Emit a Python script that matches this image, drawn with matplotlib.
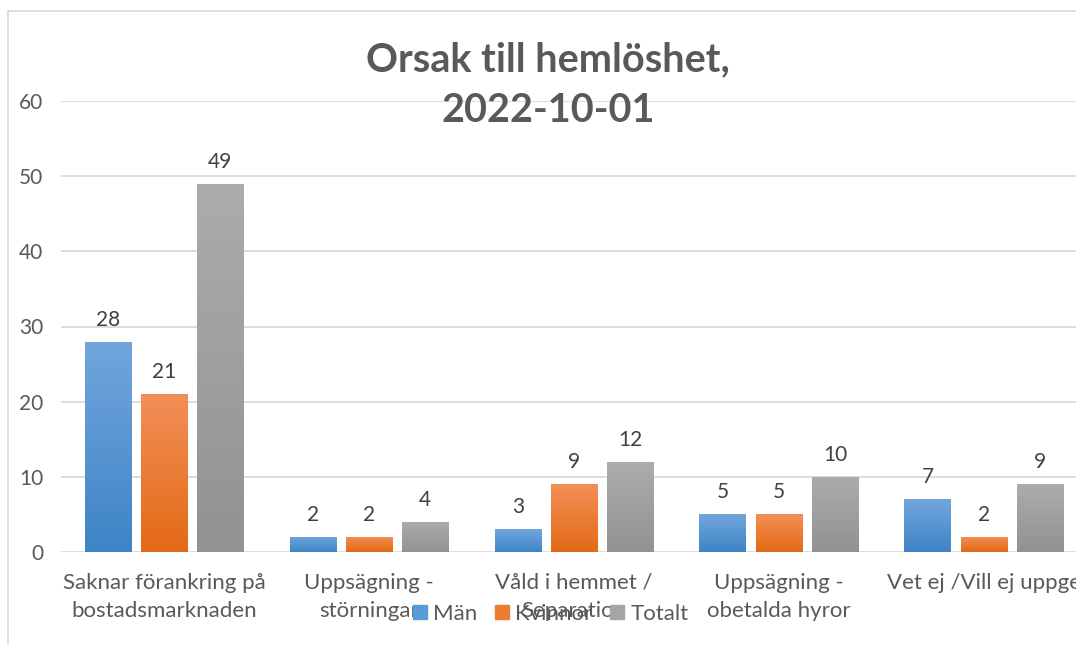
import numpy as np
import matplotlib.pyplot as plt
from matplotlib.patches import Rectangle
from matplotlib.colors import LinearSegmentedColormap

plt.rcParams['font.family'] = ['Lato', 'DejaVu Sans']

CATEGORIES = ["Saknar förankring på\nbostadsmarknaden",
              "Uppsägning -\nstörningar",
              "Våld i hemmet /\nSeparation",
              "Uppsägning -\nobetalda hyror",
              "Vet ej /Vill ej uppge"]
SERIES = ["Män", "Kvinnor", "Totalt"]
MAN = [28, 2, 3, 5, 7]
KVINNOR = [21, 2, 9, 5, 2]
TOTALT = [49, 4, 12, 10, 9]
YTICKS = [0, 10, 20, 30, 40, 50, 60]

# top colour, bottom colour, legend colour
COLORS = [("#72a6dd", "#3e84c6", "#5b9bd5"),
          ("#f28f58", "#e36a15", "#ed7d31"),
          ("#acacac", "#929292", "#a5a5a5")]
TEXT = "#595959"

W, H = 1076, 645
fig = plt.figure(figsize=(W / 100, H / 100), dpi=100)

# chart border (cut off on the right and bottom in the reference)
fig.patches.append(Rectangle((8 / W, -0.1), 1.2, 1 - 11 / H + 0.1,
                             transform=fig.transFigure, fill=False,
                             edgecolor="#d9d9d9", lw=1.2))

left, right = 61.5, 61.5 + 5 * 205
bottom, top = 552, 101
ax = fig.add_axes([left / W, 1 - bottom / H, (right - left) / W, (bottom - top) / H])
for s in ax.spines.values():
    s.set_visible(False)
ax.set_yticks(YTICKS)
ax.yaxis.grid(True, color="#d9d9d9", lw=1.3)
ax.set_axisbelow(True)
ax.tick_params(axis="y", length=0, pad=13, labelsize=15, labelcolor=TEXT)
ax.tick_params(axis="x", length=0, pad=15, labelsize=16, labelcolor=TEXT)
ax.set_xticks(range(len(CATEGORIES)))
ax.set_xticklabels(CATEGORIES, linespacing=1.5)

x = np.arange(len(CATEGORIES))
bw = 47 / 205
step = 56 / 205
grad = np.linspace(0, 1, 256).reshape(-1, 1)
for i, (vals, (ctop, cbot, cleg)) in enumerate(zip([MAN, KVINNOR, TOTALT], COLORS)):
    pos = x + (i - 1) * step
    bars = ax.bar(pos, vals, bw, color=cleg, label=SERIES[i], zorder=2)
    cmap = LinearSegmentedColormap.from_list("g%d" % i, [cbot, ctop])
    for b, v in zip(bars, vals):
        b.set_facecolor("none")
        b.set_edgecolor("none")
        im = ax.imshow(grad, cmap=cmap, aspect="auto", origin="lower",
                       extent=[b.get_x(), b.get_x() + bw, 0, v], zorder=3)
        im.set_clip_path(b)
        ax.text(b.get_x() + bw / 2, v + 1.6, str(v), ha="center", va="bottom",
                fontsize=15, color="#404040")
ax.set_xlim(-0.5, 4.5)
ax.set_ylim(0, 60)

handles = [Rectangle((0, 0), 1, 1, color=c[2]) for c in COLORS]
fig.legend(handles, SERIES, loc="center", bbox_to_anchor=(551 / W, 1 - 614 / H),
           ncol=3, frameon=False, fontsize=16, labelcolor=TEXT,
           handlelength=0.6, handleheight=0.6, handletextpad=0.3,
           columnspacing=0.8)

fig.text(548 / W, 1 - 60 / H, "Orsak till hemlöshet,", ha="center", va="center",
         fontsize=28.5, fontweight="bold", color=TEXT)
fig.text(548 / W, 1 - 110 / H, "2022-10-01", ha="center", va="center",
         fontsize=28.5, fontweight="bold", color=TEXT)

fig.savefig("out.png", dpi=100)
